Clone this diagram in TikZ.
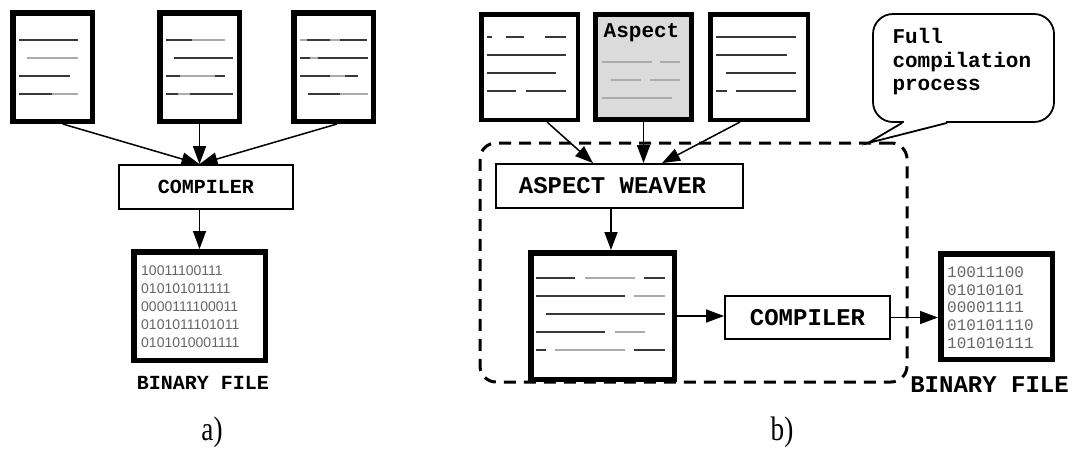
\documentclass[tikz,border=0pt]{standalone}
\usepackage{fontspec}
\newfontfamily\cour{Liberation Mono}
\newfontfamily\arial{Liberation Sans}
\newfontfamily\capfont{Liberation Serif}
\usetikzlibrary{arrows.meta,calc}
\begin{document}
\begin{tikzpicture}[x=1pt,y=-1pt,
  dk/.style={line width=2pt,draw=black!78},
  lt/.style={line width=2pt,draw=black!33},
  doc/.style={draw=black,fill=white,inner sep=0pt,line width=#1},
  box/.style={draw=black,fill=white,line width=1.8pt,inner sep=0pt},
  arr/.style={line width=1.5pt,-{Triangle[length=18pt,width=13pt]}},
  lbl/.style={font=\cour\bfseries\fontsize{20}{24}\selectfont},
  lblb/.style={font=\cour\bfseries\fontsize{24}{28}\selectfont},
  bits/.style={align=left,inner sep=0pt,text=black!60},
  captext/.style={font=\capfont\fontsize{34}{38}\selectfont,inner sep=0pt}
]
\useasboundingbox[fill=white] (0,0) rectangle (1075,448);

% ---------------- a) ----------------
\node[doc=5.5pt,minimum width=79.5pt,minimum height=108.5pt] (a1) at (52.75,67) {};
\node[doc=5.5pt,minimum width=79.5pt,minimum height=108.5pt] (a2) at (199.5,67) {};
\node[doc=5.5pt,minimum width=79.5pt,minimum height=108.5pt] (a3) at (333.5,67) {};
% text lines a1
\draw[dk] (19,40)--(78,40);
\draw[lt] (27,58)--(78,58);
\draw[dk] (19,76)--(70,76);
\draw[dk] (19,94)--(52,94); \draw[lt] (52,94)--(78,94);
% text lines a2
\draw[dk] (166,40)--(192,40); \draw[lt] (192,40)--(225,40);
\draw[dk] (174,58)--(233,58);
\draw[dk] (166,76)--(180,76); \draw[lt] (180,76)--(215,76); \draw[dk] (215,76)--(225,76);
\draw[dk] (166,94)--(178,94); \draw[lt] (178,94)--(190,94); \draw[dk] (190,94)--(233,94);
% text lines a3
\draw[lt] (300,40)--(307,40); \draw[dk] (307,40)--(330,40); \draw[lt] (330,40)--(340,40); \draw[dk] (340,40)--(367,40);
\draw[dk] (300,58)--(310,58); \draw[lt] (310,58)--(318,58); \draw[dk] (318,58)--(368,58);
\draw[dk] (300,76)--(330,76); \draw[lt] (330,76)--(345,76); \draw[dk] (345,76)--(358,76);
\draw[dk] (308,94)--(340,94); \draw[lt] (340,94)--(368,94);

\node[box,minimum width=174pt,minimum height=44pt,lbl] (compa) at (206,187) {COMPILER};
\node[doc=5.5pt,minimum width=131.5pt,minimum height=108.5pt] (bina) at (199.5,306) {};
\node[bits,anchor=west,font=\arial\fontsize{14}{18}\selectfont] (bitsa) at (141,307)
  {10011100111\\010101011111\\0000111100011\\0101011101011\\0101010001111};
\node[lbl] (bfa) at (203,383) {BINARY FILE};
\node[captext] (capa) at (212,432) {\scalebox{0.8}[1]{a)}};

\draw[arr] ($(a1.south)+(10,0)$) -- (compa.north -| a2.south);
\draw[arr] (a2.south) -- (compa.north -| a2.south);
\draw[arr] ($(a3.south)+(3.5,0)$) -- (compa.north -| a2.south);
\draw[arr] (compa.south -| bina.north) -- (bina.north);

% ---------------- b) ----------------
\node[draw=black,line width=3pt,dash pattern=on 12pt off 8pt,rounded corners=16pt,
      minimum width=427pt,minimum height=239pt,inner sep=0pt] (proc) at (693.5,262.5) {};

\node[doc=4.5pt,minimum width=96.5pt,minimum height=105.5pt] (b1) at (529.5,67) {};
\node[doc=5pt,fill=black!14,minimum width=96pt,minimum height=105pt] (b2) at (643.5,67) {};
\node[doc=4.5pt,minimum width=97.5pt,minimum height=105.5pt] (b3) at (759,67) {};
% lines b1
\draw[dk] (487,37)--(492,37); \draw[dk] (506,37)--(524,37); \draw[dk] (545,37)--(566,37);
\draw[dk] (487,55)--(566,55);
\draw[dk] (487,73)--(556,73);
\draw[dk] (487,91)--(516,91); \draw[dk] (526,91)--(566,91);
% b2
\node[font=\cour\bfseries\fontsize{21}{24}\selectfont,inner sep=0pt] (asp) at (641.5,33) {Aspect};
\draw[lt] (602,62)--(652,62); \draw[lt] (660,62)--(680,62);
\draw[lt] (611,80)--(641,80); \draw[lt] (650,80)--(680,80);
\draw[lt] (602,98)--(672,98);
% lines b3
\draw[dk] (716,37)--(796,37);
\draw[dk] (716,55)--(787,55);
\draw[dk] (726,73)--(796,73);
\draw[dk] (716,91)--(727,91); \draw[dk] (736,91)--(796,91);

\node[box,minimum width=247pt,minimum height=44pt] (weaver) at (619.5,186) {};
\node[lblb,inner sep=0pt] (weavert) at (612.5,186) {ASPECT WEAVER};

\draw[arr] ($(b1.south)+(17.5,0)$) -- ($(weaver.north)+(-26.5,0)$);
\draw[arr] (b2.south) -- (b2.south |- weaver.north);
\draw[arr] ($(b3.south)+(-19,0)$) -- ($(weaver.north)+(42.5,0)$);

\node[doc=5.5pt,minimum width=143.5pt,minimum height=126.5pt] (woven) at (602.5,316) {};
\draw[dk] (536,278)--(575,278); \draw[lt] (585,278)--(635,278); \draw[dk] (644,278)--(665,278);
\draw[dk] (536,296)--(625,296); \draw[lt] (634,296)--(665,296);
\draw[dk] (546,314)--(665,314);
\draw[dk] (536,332)--(605,332); \draw[lt] (615,332)--(645,332);
\draw[dk] (536,350)--(546,350); \draw[lt] (555,350)--(625,350); \draw[dk] (634,350)--(665,350);

\draw[arr] ($(weaver.south)+(-8.5,0)$) coordinate (w1) -- (w1 |- woven.north);

\node[box,minimum width=165pt,minimum height=43pt,lblb] (compb) at (807.5,317.5) {COMPILER};
\draw[arr] (woven.east) -- (woven.east -| compb.west);

\node[doc=5.5pt,minimum width=111.5pt,minimum height=105.5pt] (binb) at (996.5,306.5) {};
\node[bits,anchor=west,font=\cour\fontsize{16}{17.75}\selectfont] (bitsb) at (947,307.5)
  {10011100\\01010101\\00001111\\010101110\\101010111};
\draw[arr] (compb.east) -- (compb.east -| binb.west);
\node[lblb] (bfb) at (989.5,385) {BINARY FILE};
\node[captext] (capb) at (782,432) {\scalebox{0.8}[1]{b)}};

% callout
\node[draw=black,fill=white,line width=1.8pt,rounded corners=20pt,
      minimum width=181pt,minimum height=108pt,inner sep=0pt] (bubble) at (963.5,68) {};
\coordinate (tA) at ($(bubble.south west)+(30,0)$);
\coordinate (tB) at ($(bubble.south west)+(75,0)$);
\coordinate (tip) at (868,143);
\fill[white] (tA) -- (tip) -- (tB) -- cycle;
\fill[white] ($(tA)+(1.5,-1.6)$) rectangle ($(tB)+(-1.5,1.6)$);
\draw[line width=1.8pt,line join=miter] (tA) -- (tip) -- (tB);
\node[align=left,text width=141pt,inner sep=0pt,
      font=\cour\bfseries\fontsize{21}{23.5}\selectfont] (bubt) at (963,62)
  {Full\\compilation\\process};
\end{tikzpicture}
\end{document}
